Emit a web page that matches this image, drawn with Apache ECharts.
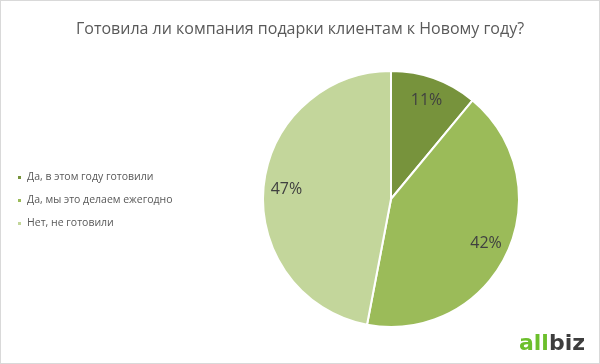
<!DOCTYPE html>
<html><head><meta charset="utf-8">
<script src="https://cdn.jsdelivr.net/npm/echarts@6/dist/echarts.min.js"></script>
<style>html,body{margin:0;padding:0;background:#fff}#c{width:600px;height:364px;box-sizing:border-box;border:1px solid #d9d9d9}</style>
</head><body><div id="c"></div>
<script>
const titleText = 'Готовила ли компания подарки клиентам к Новому году?';
const categories = ['Да, в этом году готовили', 'Да, мы это делаем ежегодно', 'Нет, не готовили'];
const values = [11, 42, 47];
const colors = ['#77933C', '#9BBB59', '#C3D69B'];

const chart = echarts.init(document.getElementById('c'));
const data = categories.map((n, i) => ({ name: n, value: values[i], itemStyle: { color: colors[i] } }));
chart.setOption({
  animation: false,
  title: { text: titleText, left: 'center', top: 15, textStyle: { fontFamily: 'Open Sans', fontWeight: 'normal', fontSize: 16, color: '#595959' } },
  legend: {
    orient: 'vertical', left: 10, top: 166, itemWidth: 5, itemHeight: 5, itemGap: 12, icon: 'rect',
    textStyle: { fontFamily: 'Open Sans', fontSize: 10.5, color: '#595959' },
    data: categories
  },
  graphic: [{
    type: 'text', right: 14, bottom: 8,
    style: { rich: { a: { fill: '#6cbf2c', fontSize: 22, fontWeight: 'bold', fontFamily: 'DejaVu Sans' }, b: { fill: '#3d3d3d', fontSize: 22, fontWeight: 'bold', fontFamily: 'DejaVu Sans' } }, text: '{a|all}{b|biz}' }
  }],
  series: [{
    type: 'pie', center: [390, 198], radius: [0, 128], startAngle: 90, clockwise: true,
    itemStyle: { borderColor: '#fff', borderWidth: 2 },
    label: { show: false }, labelLine: { show: false }, silent: true,
    data: data
  }, {
    type: 'pie', center: [390, 198], radius: [76, 128], startAngle: 90, clockwise: true,
    itemStyle: { color: 'transparent', borderWidth: 0 }, silent: true, legendHoverLink: false,
    label: { show: true, position: 'inside', formatter: '{c}%', fontFamily: 'Open Sans', fontSize: 16, color: '#404040' },
    labelLine: { show: false },
    data: categories.map((n, i) => ({ name: n, value: values[i], itemStyle: { color: 'transparent' } }))
  }]
});
</script></body></html>
